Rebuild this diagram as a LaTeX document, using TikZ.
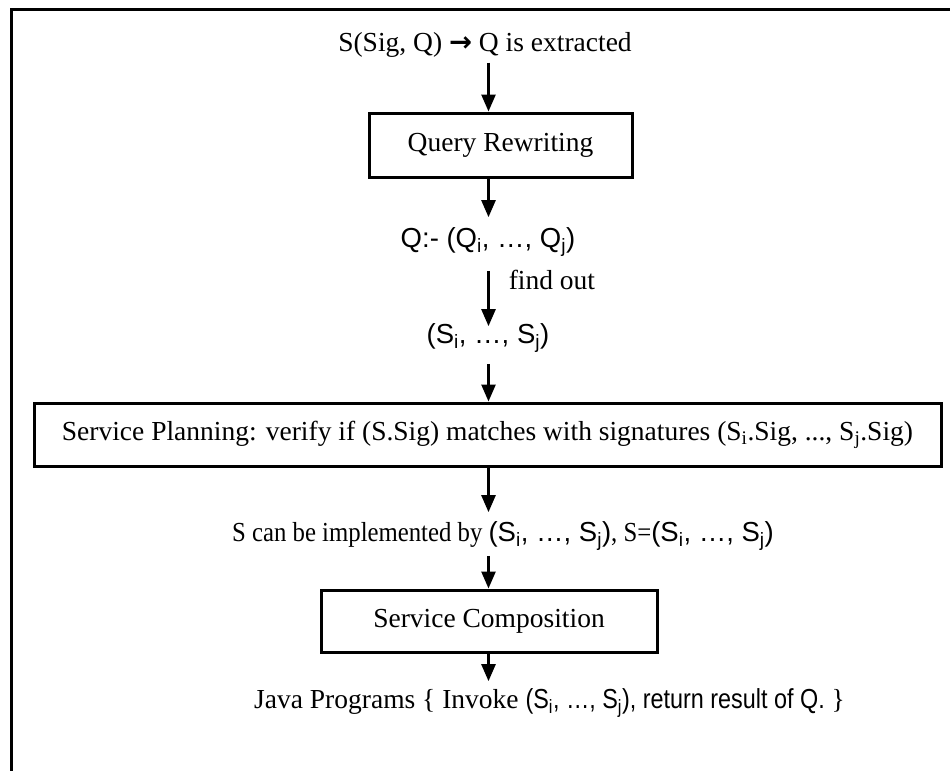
\documentclass[tikz,border=0pt]{standalone}
\usepackage{fontspec}
\setmainfont{Liberation Serif}
\setsansfont{Liberation Sans}
\newfontfamily\arrowglyph{DejaVu Sans}
\newfontfamily\narrowserif[FakeStretch=0.9]{Liberation Serif}
\newfontfamily\narrowsans[FakeStretch=0.85]{Liberation Sans}
\usetikzlibrary{arrows.meta}
\newcommand\sbs[1]{\textsubscript{#1}}
\begin{document}
\begin{tikzpicture}[x=1pt,y=-1pt,
  every node/.style={font=\fontsize{27.5}{32}\selectfont, inner sep=0pt},
  box/.style={draw, line width=3pt},
  arr/.style={line width=2.6pt, -{Triangle[width=14pt,length=17pt]}},
  frame/.style={line width=3.5pt}]
\path[use as bounding box] (0,0) rectangle (950,771);

% open frame: top and left edges
\draw[frame] (950,9.5) -- (11.5,9.5) -- (11.5,771);

% vertical axis of the flow
\coordinate (ax) at (488.5,0);

\node (title) at (485,45) {S(Sig, Q) {\arrowglyph\bfseries →} Q is extracted};
\node[box, minimum width=263pt, minimum height=64pt] (qr) at (500.5,145) {Query Rewriting};
\node (q) at (488,242) {\sffamily Q:- (Q\sbs{i}, …, Q\sbs{j})};
\node (s) at (488,338) {\sffamily (S\sbs{i}, …, S\sbs{j})};
\node[box, minimum width=907pt, minimum height=63pt] (sp) at (487.5,434.5)
  {Service Planning: verify if (S.Sig) matches with signatures (S\sbs{i}.Sig, ..., S\sbs{j}.Sig)};
\node[anchor=west] (impl) at (232,536) {\narrowserif S can be implemented by
  {\sffamily(S\sbs{i}, …, S\sbs{j})}, S={\sffamily(S\sbs{i}, …, S\sbs{j})}};
\node[box, minimum width=336pt, minimum height=62pt] (sc) at (489,621) {Service Composition};
\node[anchor=west] (java) at (254,703) {Java Programs \{ Invoke
  {\narrowsans(S\sbs{i}, …, S\sbs{j}), return result of Q.} \}};

% connectors
\draw[arr, shorten <=5pt] (title.south -| ax) -- (qr.north -| ax);
\draw[arr, shorten >=10pt] (qr.south -| ax) -- (q.north -| ax);
\draw[arr, shorten <=14pt, shorten >=-3pt] (q.south -| ax) -- node[right=19pt, pos=0.35] (find) {find out} (s.north -| ax);
\draw[arr, shorten <=11pt] (s.south -| ax) -- (sp.north -| ax);
\draw[arr, shorten >=9pt] (sp.south -| ax) -- (impl.north -| ax);
\draw[arr, shorten <=5pt] (impl.south -| ax) -- (sc.north -| ax);
\draw[arr, shorten >=7pt] (sc.south -| ax) -- (java.north -| ax);
\end{tikzpicture}
\end{document}
